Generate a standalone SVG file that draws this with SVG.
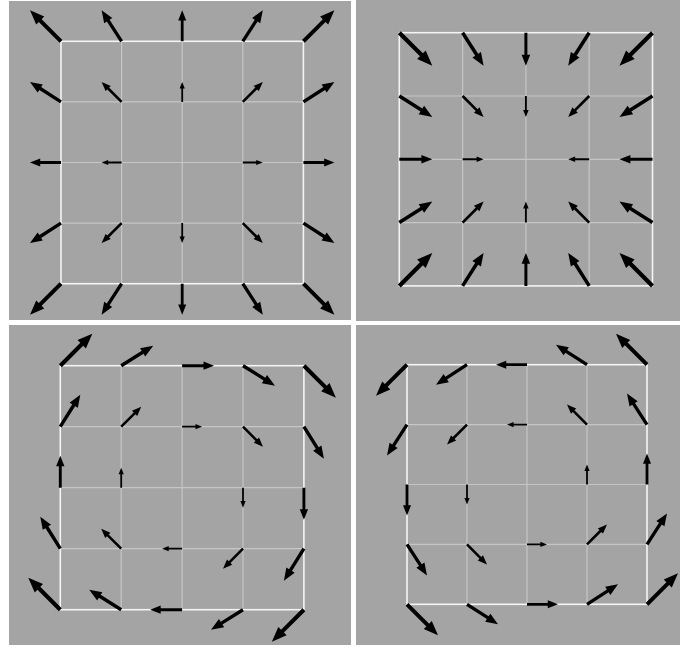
<svg xmlns="http://www.w3.org/2000/svg" xmlns:xlink="http://www.w3.org/1999/xlink" width="680" height="647" viewBox="0 0 680 647">
<style>
.panel{fill:#a4a4a4}
.inner{stroke:#c6c6c6;stroke-width:1.2;fill:none}
.outer{stroke:#f4f4f4;stroke-width:1.6;fill:none}
</style>
<defs>
<polygon id="arr" points="0,-0.045 0.67,-0.045 0.67,-0.13 1,0 0.67,0.13 0.67,0.045 0,0.045" fill="#000"/>
</defs>
<rect x="0" y="0" width="680" height="647" fill="#fff"/>
<g id="panel1">
<rect class="panel" x="9" y="1" width="342" height="319"/>
<path class="inner" d="M121.6 41.3V283.7M182.2 41.3V283.7M242.8 41.3V283.7M61 101.9H303.4M61 162.5H303.4M61 223.1H303.4"/>
<rect class="outer" x="61" y="41.3" width="242.4" height="242.4"/>
<g id="arrows1">
<use href="#arr" transform="matrix(-31 -31 31 -31 61 41.3)"/>
<use href="#arr" transform="matrix(-20 -31 31 -20 121.6 41.3)"/>
<use href="#arr" transform="matrix(0 -31 31 0 182.2 41.3)"/>
<use href="#arr" transform="matrix(20 -31 31 20 242.8 41.3)"/>
<use href="#arr" transform="matrix(31 -31 31 31 303.4 41.3)"/>
<use href="#arr" transform="matrix(-31 -20 20 -31 61 101.9)"/>
<use href="#arr" transform="matrix(-20 -20 20 -20 121.6 101.9)"/>
<use href="#arr" transform="matrix(0 -20 20 0 182.2 101.9)"/>
<use href="#arr" transform="matrix(20 -20 20 20 242.8 101.9)"/>
<use href="#arr" transform="matrix(31 -20 20 31 303.4 101.9)"/>
<use href="#arr" transform="matrix(-31 0 0 -31 61 162.5)"/>
<use href="#arr" transform="matrix(-20 0 0 -20 121.6 162.5)"/>
<use href="#arr" transform="matrix(20 0 0 20 242.8 162.5)"/>
<use href="#arr" transform="matrix(31 0 0 31 303.4 162.5)"/>
<use href="#arr" transform="matrix(-31 20 -20 -31 61 223.1)"/>
<use href="#arr" transform="matrix(-20 20 -20 -20 121.6 223.1)"/>
<use href="#arr" transform="matrix(0 20 -20 0 182.2 223.1)"/>
<use href="#arr" transform="matrix(20 20 -20 20 242.8 223.1)"/>
<use href="#arr" transform="matrix(31 20 -20 31 303.4 223.1)"/>
<use href="#arr" transform="matrix(-31 31 -31 -31 61 283.7)"/>
<use href="#arr" transform="matrix(-20 31 -31 -20 121.6 283.7)"/>
<use href="#arr" transform="matrix(0 31 -31 0 182.2 283.7)"/>
<use href="#arr" transform="matrix(20 31 -31 20 242.8 283.7)"/>
<use href="#arr" transform="matrix(31 31 -31 31 303.4 283.7)"/>
</g>
</g>
<g id="panel2">
<rect class="panel" x="356" y="0" width="324" height="321"/>
<path class="inner" d="M462.6 32.7V285.9M525.9 32.7V285.9M589.2 32.7V285.9M399.3 96H652.5M399.3 159.3H652.5M399.3 222.6H652.5"/>
<rect class="outer" x="399.3" y="32.7" width="253.2" height="253.2"/>
<g id="arrows2">
<use href="#arr" transform="matrix(33 33 -33 33 399.3 32.7)"/>
<use href="#arr" transform="matrix(21 33 -33 21 462.6 32.7)"/>
<use href="#arr" transform="matrix(0 33 -33 0 525.9 32.7)"/>
<use href="#arr" transform="matrix(-21 33 -33 -21 589.2 32.7)"/>
<use href="#arr" transform="matrix(-33 33 -33 -33 652.5 32.7)"/>
<use href="#arr" transform="matrix(33 21 -21 33 399.3 96)"/>
<use href="#arr" transform="matrix(21 21 -21 21 462.6 96)"/>
<use href="#arr" transform="matrix(0 21 -21 0 525.9 96)"/>
<use href="#arr" transform="matrix(-21 21 -21 -21 589.2 96)"/>
<use href="#arr" transform="matrix(-33 21 -21 -33 652.5 96)"/>
<use href="#arr" transform="matrix(33 0 0 33 399.3 159.3)"/>
<use href="#arr" transform="matrix(21 0 0 21 462.6 159.3)"/>
<use href="#arr" transform="matrix(-21 0 0 -21 589.2 159.3)"/>
<use href="#arr" transform="matrix(-33 0 0 -33 652.5 159.3)"/>
<use href="#arr" transform="matrix(33 -21 21 33 399.3 222.6)"/>
<use href="#arr" transform="matrix(21 -21 21 21 462.6 222.6)"/>
<use href="#arr" transform="matrix(0 -21 21 0 525.9 222.6)"/>
<use href="#arr" transform="matrix(-21 -21 21 -21 589.2 222.6)"/>
<use href="#arr" transform="matrix(-33 -21 21 -33 652.5 222.6)"/>
<use href="#arr" transform="matrix(33 -33 33 33 399.3 285.9)"/>
<use href="#arr" transform="matrix(21 -33 33 21 462.6 285.9)"/>
<use href="#arr" transform="matrix(0 -33 33 0 525.9 285.9)"/>
<use href="#arr" transform="matrix(-21 -33 33 -21 589.2 285.9)"/>
<use href="#arr" transform="matrix(-33 -33 33 -33 652.5 285.9)"/>
</g>
</g>
<g id="panel3">
<rect class="panel" x="9" y="325" width="342" height="320"/>
<path class="inner" d="M121.2 365.7V609.7M182.1 365.7V609.7M243 365.7V609.7M60.3 426.7H303.9M60.3 487.7H303.9M60.3 548.7H303.9"/>
<rect class="outer" x="60.3" y="365.7" width="243.6" height="244"/>
<g id="arrows3">
<use href="#arr" transform="matrix(32 -32 32 32 60.3 365.7)"/>
<use href="#arr" transform="matrix(32 -20 20 32 121.2 365.7)"/>
<use href="#arr" transform="matrix(32 0 0 32 182.1 365.7)"/>
<use href="#arr" transform="matrix(32 20 -20 32 243 365.7)"/>
<use href="#arr" transform="matrix(32 32 -32 32 303.9 365.7)"/>
<use href="#arr" transform="matrix(20 -32 32 20 60.3 426.7)"/>
<use href="#arr" transform="matrix(20 -20 20 20 121.2 426.7)"/>
<use href="#arr" transform="matrix(20 0 0 20 182.1 426.7)"/>
<use href="#arr" transform="matrix(20 20 -20 20 243 426.7)"/>
<use href="#arr" transform="matrix(20 32 -32 20 303.9 426.7)"/>
<use href="#arr" transform="matrix(0 -32 32 0 60.3 487.7)"/>
<use href="#arr" transform="matrix(0 -20 20 0 121.2 487.7)"/>
<use href="#arr" transform="matrix(0 20 -20 0 243 487.7)"/>
<use href="#arr" transform="matrix(0 32 -32 0 303.9 487.7)"/>
<use href="#arr" transform="matrix(-20 -32 32 -20 60.3 548.7)"/>
<use href="#arr" transform="matrix(-20 -20 20 -20 121.2 548.7)"/>
<use href="#arr" transform="matrix(-20 0 0 -20 182.1 548.7)"/>
<use href="#arr" transform="matrix(-20 20 -20 -20 243 548.7)"/>
<use href="#arr" transform="matrix(-20 32 -32 -20 303.9 548.7)"/>
<use href="#arr" transform="matrix(-32 -32 32 -32 60.3 609.7)"/>
<use href="#arr" transform="matrix(-32 -20 20 -32 121.2 609.7)"/>
<use href="#arr" transform="matrix(-32 0 0 -32 182.1 609.7)"/>
<use href="#arr" transform="matrix(-32 20 -20 -32 243 609.7)"/>
<use href="#arr" transform="matrix(-32 32 -32 -32 303.9 609.7)"/>
</g>
</g>
<g id="panel4">
<rect class="panel" x="356" y="325" width="324" height="320"/>
<path class="inner" d="M467 364.7V604.3M527 364.7V604.3M587 364.7V604.3M407 424.6H647M407 484.5H647M407 544.4H647"/>
<rect class="outer" x="407" y="364.7" width="240" height="239.6"/>
<g id="arrows4">
<use href="#arr" transform="matrix(-31 31 -31 -31 407 364.7)"/>
<use href="#arr" transform="matrix(-31 20 -20 -31 467 364.7)"/>
<use href="#arr" transform="matrix(-31 0 0 -31 527 364.7)"/>
<use href="#arr" transform="matrix(-31 -20 20 -31 587 364.7)"/>
<use href="#arr" transform="matrix(-31 -31 31 -31 647 364.7)"/>
<use href="#arr" transform="matrix(-20 31 -31 -20 407 424.6)"/>
<use href="#arr" transform="matrix(-20 20 -20 -20 467 424.6)"/>
<use href="#arr" transform="matrix(-20 0 0 -20 527 424.6)"/>
<use href="#arr" transform="matrix(-20 -20 20 -20 587 424.6)"/>
<use href="#arr" transform="matrix(-20 -31 31 -20 647 424.6)"/>
<use href="#arr" transform="matrix(0 31 -31 0 407 484.5)"/>
<use href="#arr" transform="matrix(0 20 -20 0 467 484.5)"/>
<use href="#arr" transform="matrix(0 -20 20 0 587 484.5)"/>
<use href="#arr" transform="matrix(0 -31 31 0 647 484.5)"/>
<use href="#arr" transform="matrix(20 31 -31 20 407 544.4)"/>
<use href="#arr" transform="matrix(20 20 -20 20 467 544.4)"/>
<use href="#arr" transform="matrix(20 0 0 20 527 544.4)"/>
<use href="#arr" transform="matrix(20 -20 20 20 587 544.4)"/>
<use href="#arr" transform="matrix(20 -31 31 20 647 544.4)"/>
<use href="#arr" transform="matrix(31 31 -31 31 407 604.3)"/>
<use href="#arr" transform="matrix(31 20 -20 31 467 604.3)"/>
<use href="#arr" transform="matrix(31 0 0 31 527 604.3)"/>
<use href="#arr" transform="matrix(31 -20 20 31 587 604.3)"/>
<use href="#arr" transform="matrix(31 -31 31 31 647 604.3)"/>
</g>
</g>
</svg>
